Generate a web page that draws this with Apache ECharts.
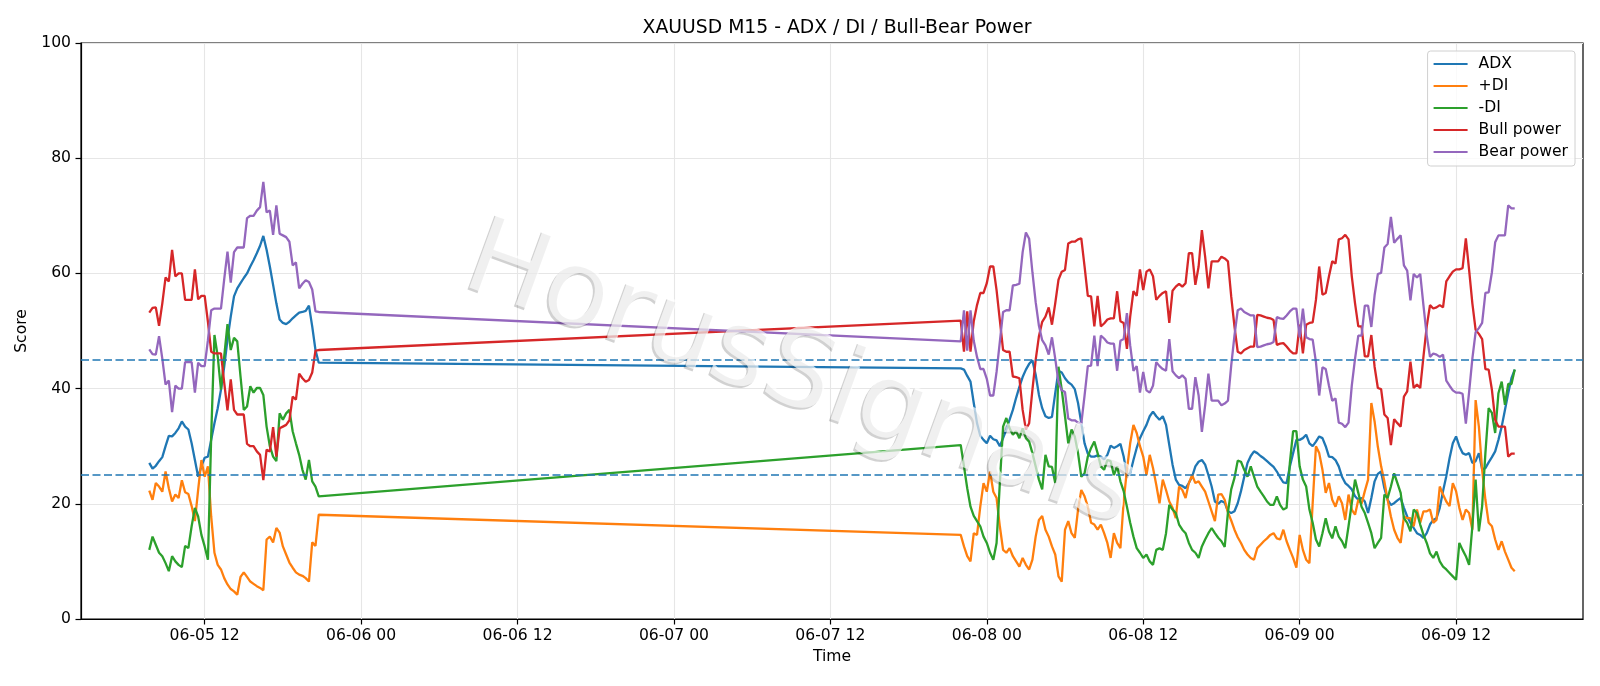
<!DOCTYPE html>
<html>
<head>
<meta charset="utf-8">
<title>XAUUSD M15 - ADX / DI / Bull-Bear Power</title>
<script src="https://cdn.jsdelivr.net/npm/echarts@6/dist/echarts.min.js"></script>
<style>
  html, body { margin: 0; padding: 0; background: #fff; }
  #chart { width: 1600px; height: 686px; }
</style>
</head>
<body>
<div id="chart"></div>
<script>
// M15 bars, two sessions (Fri, then Sun-Tue). [start in hours from 06-05 00:00, bar count]
var sessions = [[7.75, 53], [70, 171]];

var tickHours = [12, 24, 36, 48, 60, 72, 84, 96, 108];
var tickLabels = ['06-05 12', '06-06 00', '06-06 12', '06-07 00', '06-07 12', '06-08 00', '06-08 12', '06-09 00', '06-09 12'];

var adx = [
  27.1, 26.1, 26.6, 27.4, 28.1, 30.0, 31.8, 31.7, 32.3, 33.1, 34.3, 33.4, 32.9, 30.5, 27.6, 24.7, 26.5, 28.0, 28.2, 31.1,
  34.0, 36.6, 39.8, 43.8, 48.5, 52.5, 56.0, 57.4, 58.3, 59.2, 60.0, 61.2, 62.3, 63.5, 64.8, 66.5, 64.1, 61.2, 58.0, 54.8,
  52.0, 51.4, 51.2, 51.6, 52.2, 52.7, 53.2, 53.3, 53.5, 54.4, 50.8, 46.7, 44.5,
  43.5, 43.3, 42.2, 41.2, 37.5, 34.0, 31.8, 31.1, 30.5, 31.8, 31.2, 31.0, 30.0, 31.4, 32.9, 34.6, 36.3, 38.4, 40.3, 42.0,
  43.3, 44.3, 44.9, 42.4, 38.9, 36.6, 35.2, 34.9, 35.1, 39.2, 43.1, 42.8, 41.8, 41.1, 40.7, 39.9, 37.5, 34.0, 30.5, 28.7,
  28.2, 28.2, 28.4, 28.2, 27.7, 28.5, 30.1, 29.7, 30.0, 30.4, 28.2, 25.0, 25.3, 27.6, 29.7, 31.4, 32.6, 33.7, 35.2, 36.0,
  35.2, 34.6, 35.2, 33.7, 30.2, 26.8, 24.2, 23.3, 23.1, 22.7, 23.6, 24.7, 26.5, 27.3, 27.6, 26.8, 25.0, 23.0, 20.4, 20.0,
  20.5, 20.2, 18.7, 18.4, 18.7, 20.1, 22.2, 24.7, 27.1, 28.3, 29.1, 28.8, 28.3, 27.9, 27.4, 26.9, 26.4, 25.6, 24.6, 23.7,
  23.6, 26.5, 28.8, 31.1, 31.1, 31.4, 32.0, 30.5, 30.0, 30.8, 31.7, 31.4, 30.0, 28.2, 28.1, 27.6, 26.5, 24.7, 23.6, 23.1,
  22.5, 21.3, 20.7, 21.0, 20.4, 18.4, 21.0, 23.9, 25.2, 25.6, 22.7, 20.7, 19.8, 20.1, 20.6, 21.0, 19.3, 17.8, 16.7, 15.8,
  14.9, 14.6, 14.1, 14.9, 16.4, 17.2, 17.5, 19.3, 22.2, 24.8, 27.9, 30.5, 31.7, 30.0, 28.8, 28.5, 28.8, 27.1, 27.4, 28.8,
  26.0, 26.2, 27.2, 28.1, 29.1, 31.1, 33.4, 36.3, 39.2, 41.8, 43.3
];

var plusDI = [
  22.3, 20.7, 23.6, 23.0, 22.1, 25.6, 22.7, 20.4, 21.6, 21.0, 24.1, 22.0, 21.7, 19.6, 17.0, 22.4, 27.6, 24.7, 26.5, 17.8,
  11.5, 9.4, 8.6, 7.1, 6.0, 5.2, 4.8, 4.2, 7.3, 8.1, 7.3, 6.5, 6.1, 5.7, 5.4, 5.0, 13.8, 14.3, 13.3, 15.8,
  15.0, 12.6, 11.2, 9.8, 8.9, 8.1, 7.7, 7.5, 7.1, 6.5, 13.3, 12.7, 18.1,
  14.6, 12.6, 10.9, 10.0, 14.9, 14.6, 19.5, 23.6, 22.1, 25.6, 22.1, 21.0, 16.1, 12.0, 11.5, 12.3, 10.9, 10.0, 9.1, 10.6,
  9.4, 8.6, 10.3, 14.3, 17.2, 17.9, 15.5, 14.3, 12.6, 11.2, 7.4, 6.5, 15.5, 17.0, 14.9, 14.1, 19.0, 22.4, 21.3, 19.5,
  16.7, 16.4, 15.5, 16.4, 14.9, 13.2, 10.6, 14.9, 13.2, 12.3, 20.4, 25.9, 30.5, 33.7, 32.3, 30.0, 28.2, 25.0, 28.5, 26.2,
  23.3, 20.1, 24.2, 22.4, 20.4, 19.3, 17.5, 23.0, 22.4, 21.0, 23.6, 25.0, 23.6, 23.9, 23.0, 22.1, 20.4, 18.7, 17.0, 21.6,
  21.7, 20.7, 18.5, 17.1, 15.5, 14.2, 13.2, 12.0, 11.2, 10.6, 10.3, 12.3, 12.9, 13.5, 14.0, 14.6, 14.9, 14.0, 13.8, 15.5,
  13.5, 12.0, 10.6, 8.9, 14.6, 12.0, 10.3, 9.7, 20.1, 30.0, 28.8, 25.9, 21.9, 23.6, 20.7, 19.5, 21.3, 20.1, 17.2, 21.6,
  19.0, 18.1, 20.7, 20.0, 22.2, 24.2, 37.5, 34.3, 29.9, 26.5, 23.9, 20.7, 17.8, 15.5, 14.1, 13.2, 17.8, 17.5, 17.5, 16.1,
  19.0, 16.7, 18.7, 18.7, 19.0, 16.7, 17.2, 23.0, 21.6, 20.4, 19.6, 23.6, 22.2, 19.3, 17.2, 19.0, 18.4, 15.5, 38.0, 33.4,
  25.9, 20.7, 16.7, 16.1, 13.8, 12.0, 13.5, 11.7, 10.3, 8.9, 8.3
];

var minusDI = [
  12.0, 14.3, 12.9, 11.5, 10.9, 9.7, 8.3, 10.9, 10.0, 9.4, 9.0, 12.7, 12.3, 16.1, 19.3, 17.8, 14.6, 12.6, 10.3, 31.7,
  49.3, 45.6, 39.8, 45.6, 51.2, 46.7, 48.8, 48.2, 42.1, 36.3, 36.9, 40.4, 39.3, 40.1, 40.1, 38.9, 33.4, 30.0, 28.2, 27.4,
  35.7, 34.6, 35.7, 36.3, 32.6, 30.5, 28.5, 25.9, 24.2, 27.6, 23.9, 23.0, 21.3,
  30.2, 26.5, 22.7, 19.5, 17.9, 17.0, 16.1, 14.3, 13.2, 11.5, 10.3, 13.2, 23.6, 33.4, 34.9, 33.1, 32.0, 32.6, 31.4, 33.1,
  31.4, 30.8, 28.8, 26.5, 24.2, 22.5, 28.5, 26.5, 26.4, 23.6, 43.8, 39.8, 35.2, 30.5, 32.9, 31.7, 28.8, 24.7, 25.3, 28.2,
  29.7, 30.8, 28.8, 26.5, 25.9, 27.6, 27.4, 25.0, 26.5, 23.9, 22.2, 19.5, 16.7, 14.3, 12.3, 11.5, 10.6, 11.2, 10.0, 9.4,
  12.0, 12.3, 12.0, 14.9, 19.8, 19.0, 18.4, 16.4, 15.5, 14.9, 13.2, 12.0, 11.5, 10.6, 12.6, 13.8, 14.9, 15.8, 14.9, 14.1,
  13.5, 12.5, 18.5, 22.5, 24.5, 27.5, 27.3, 25.9, 24.7, 26.5, 24.7, 23.0, 22.1, 21.3, 20.4, 19.8, 19.8, 21.3, 19.8, 19.0,
  19.3, 27.1, 32.6, 32.6, 26.5, 24.2, 23.0, 19.0, 16.7, 13.8, 12.6, 14.9, 17.5, 15.2, 14.0, 16.1, 14.3, 13.5, 12.3, 16.1,
  20.1, 24.2, 21.9, 19.5, 18.4, 16.7, 14.9, 12.3, 13.2, 14.1, 21.6, 21.0, 23.0, 25.3, 23.6, 21.9, 17.5, 16.7, 15.2, 19.0,
  18.4, 16.4, 14.6, 13.2, 11.4, 10.6, 11.7, 10.0, 9.1, 8.6, 8.0, 7.4, 6.8, 13.2, 12.0, 10.9, 9.4, 16.1, 24.2, 15.2,
  19.6, 28.8, 36.6, 35.8, 32.3, 39.2, 41.2, 37.2, 40.8, 40.8, 43.3
];

var bullPower = [
  53.2, 54.0, 54.1, 50.9, 54.8, 59.3, 58.6, 64.1, 59.5, 60.0, 60.0, 55.4, 55.4, 55.4, 60.7, 55.5, 56.1, 56.1, 51.6, 46.4,
  46.1, 46.1, 46.1, 41.0, 36.2, 41.6, 36.3, 35.5, 35.5, 35.5, 30.4, 30.0, 30.0, 29.1, 28.5, 24.1, 29.4, 29.1, 33.3, 28.2,
  33.1, 33.4, 33.7, 34.5, 38.6, 38.1, 42.6, 41.8, 41.2, 41.5, 42.8, 46.6, 46.7,
  51.8, 46.4, 53.4, 46.4, 51.7, 54.5, 56.6, 56.6, 58.3, 61.2, 61.2, 57.1, 51.9, 46.7, 46.4, 46.4, 42.1, 42.0, 41.8, 36.3,
  32.9, 34.0, 39.8, 45.0, 49.1, 51.6, 52.5, 54.1, 51.1, 54.8, 58.9, 60.3, 60.6, 65.2, 65.5, 65.5, 65.9, 66.1, 61.2, 56.1,
  56.0, 50.8, 56.1, 50.8, 51.3, 52.0, 52.2, 52.2, 56.9, 51.7, 51.4, 46.9, 52.5, 56.9, 56.1, 60.7, 57.1, 60.3, 60.7, 59.5,
  55.4, 56.1, 56.6, 56.9, 51.4, 57.0, 57.7, 58.2, 57.7, 58.3, 63.5, 63.5, 58.0, 61.2, 67.5, 62.9, 57.4, 62.1, 62.1, 62.1,
  62.9, 62.6, 62.1, 56.0, 50.8, 46.4, 46.1, 46.7, 47.0, 47.3, 47.3, 52.8, 52.7, 52.5, 52.3, 52.2, 51.9, 47.6, 47.8, 47.9,
  47.3, 46.6, 46.1, 46.1, 51.1, 46.1, 51.1, 51.4, 51.5, 55.4, 61.2, 56.3, 56.6, 59.5, 62.1, 61.7, 65.9, 66.1, 66.7, 65.9,
  59.5, 54.8, 50.8, 50.8, 45.6, 45.6, 49.3, 43.8, 40.1, 39.9, 35.5, 34.9, 30.2, 34.7, 34.0, 33.4, 38.6, 39.5, 44.7, 40.1,
  40.7, 40.1, 45.6, 50.8, 54.5, 53.9, 54.1, 54.5, 54.1, 58.6, 59.5, 60.3, 60.7, 60.7, 60.9, 66.1, 60.6, 54.8, 50.2, 49.5,
  48.6, 43.4, 43.3, 39.8, 34.6, 33.4, 33.4, 33.4, 28.2, 28.7, 28.7
];

var bearPower = [
  46.8, 46.0, 45.9, 49.1, 45.2, 40.7, 41.4, 35.9, 40.5, 40.0, 40.0, 44.6, 44.6, 44.6, 39.3, 44.5, 43.9, 43.9, 48.4, 53.6,
  53.9, 53.9, 53.9, 59.0, 63.8, 58.4, 63.7, 64.5, 64.5, 64.5, 69.6, 70.0, 70.0, 70.9, 71.5, 75.9, 70.6, 70.9, 66.7, 71.8,
  66.9, 66.6, 66.3, 65.5, 61.4, 61.9, 57.4, 58.2, 58.8, 58.5, 57.2, 53.4, 53.3,
  48.2, 53.6, 46.6, 53.6, 48.3, 45.5, 43.4, 43.4, 41.7, 38.8, 38.8, 42.9, 48.1, 53.3, 53.6, 53.6, 57.9, 58.0, 58.2, 63.7,
  67.1, 66.0, 60.2, 55.0, 50.9, 48.4, 47.5, 45.9, 48.9, 45.2, 41.1, 39.7, 39.4, 34.8, 34.5, 34.5, 34.1, 33.9, 38.8, 43.9,
  44.0, 49.2, 43.9, 49.2, 48.7, 48.0, 47.8, 47.8, 43.1, 48.3, 48.6, 53.1, 47.5, 43.1, 43.9, 39.3, 42.9, 39.7, 39.3, 40.5,
  44.6, 43.9, 43.4, 43.1, 48.6, 43.0, 42.3, 41.8, 42.3, 41.7, 36.5, 36.5, 42.0, 38.8, 32.5, 37.1, 42.6, 37.9, 37.9, 37.9,
  37.1, 37.4, 37.9, 44.0, 49.2, 53.6, 53.9, 53.3, 53.0, 52.7, 52.7, 47.2, 47.3, 47.5, 47.7, 47.8, 48.1, 52.4, 52.2, 52.1,
  52.7, 53.4, 53.9, 53.9, 48.9, 53.9, 48.9, 48.6, 48.5, 44.6, 38.8, 43.7, 43.4, 40.5, 37.9, 38.3, 34.1, 33.9, 33.3, 34.1,
  40.5, 45.2, 49.2, 49.2, 54.4, 54.4, 50.7, 56.2, 59.9, 60.1, 64.5, 65.1, 69.8, 65.3, 66.0, 66.6, 61.4, 60.5, 55.3, 59.9,
  59.3, 59.9, 54.4, 49.2, 45.5, 46.1, 45.9, 45.5, 45.9, 41.4, 40.5, 39.7, 39.3, 39.3, 39.1, 33.9, 39.4, 45.2, 49.8, 50.5,
  51.4, 56.6, 56.7, 60.2, 65.4, 66.6, 66.6, 66.6, 71.8, 71.3, 71.3
];

var levels = [45, 25];

var times = [];
sessions.forEach(function (s) {
    for (var k = 0; k < s[1]; k++) {
        times.push(s[0] + k * 0.25);
    }
});

function pairs(vals) {
    return times.map(function (t, i) { return [t, vals[i]]; });
}

var font = 'DejaVu Sans';
var fs = 15.6; // tick / label font size

function lineSeries(name, color, vals) {
    return {
        name: name,
        type: 'line',
        data: pairs(vals),
        showSymbol: false,
        symbol: 'none',
        lineStyle: { color: color, width: 2.3 },
        itemStyle: { color: color },
        emphasis: { disabled: true },
        animation: false
    };
}

var chart = echarts.init(document.getElementById('chart'), null, { renderer: 'canvas' });

var bear = lineSeries('Bear power', '#9467bd', bearPower);
bear.markLine = {
    silent: true,
    symbol: 'none',
    label: { show: false },
    lineStyle: { color: '#1f77b4', width: 1.5, type: [8, 3.5] },
    data: levels.map(function (v) { return { yAxis: v }; }),
    animation: false
};

// watermark: thin grey drop shadow, then a translucent white copy on top of the lines
var wmRot = -20 * Math.PI / 180;
var wmFont = '108px "DejaVu Sans"';
var wmX = 800, wmY = 378;

var option = {
    backgroundColor: '#fff',
    animation: false,
    title: {
        text: 'XAUUSD M15 - ADX / DI / Bull-Bear Power',
        left: 832,
        top: 14,
        textAlign: 'center',
        textStyle: { fontSize: 18.8, fontWeight: 'normal', fontFamily: font, color: '#000' }
    },
    grid: {
        left: 81, right: 17, top: 43, bottom: 67,
        show: true, borderColor: '#000', borderWidth: 1.2
    },
    legend: {
        orient: 'vertical',
        right: 25,
        top: 51,
        icon: 'rect',
        itemWidth: 34,
        itemHeight: 2,
        itemGap: 6,
        padding: [5, 7, 6, 6],
        borderColor: '#d0d0d0',
        borderWidth: 1,
        borderRadius: 3,
        backgroundColor: 'rgba(255,255,255,0.8)',
        textStyle: { fontSize: fs, fontFamily: font, color: '#000', lineHeight: 16, padding: [0, 0, 0, 6] },
        data: ['ADX', '+DI', '-DI', 'Bull power', 'Bear power']
    },
    xAxis: {
        type: 'value',
        min: 2.5125,
        max: 117.7375,
        name: 'Time',
        nameLocation: 'middle',
        nameGap: 29,
        nameTextStyle: { fontSize: fs, fontFamily: font, color: '#000' },
        axisLine: { lineStyle: { color: '#000', width: 1.2 } },
        axisTick: { customValues: tickHours, length: 5.5, lineStyle: { color: '#000', width: 1.2 } },
        axisLabel: {
            customValues: tickHours,
            margin: 9,
            fontSize: fs,
            fontFamily: font,
            color: '#000',
            formatter: function (v) {
                var k = tickHours.indexOf(Math.round(v));
                return k >= 0 ? tickLabels[k] : '';
            }
        },
        splitLine: { show: true, lineStyle: { color: '#e6e6e6', width: 1.1 } }
    },
    yAxis: {
        type: 'value',
        min: 0,
        max: 100,
        interval: 20,
        name: 'Score',
        nameLocation: 'middle',
        nameGap: 47,
        nameTextStyle: { fontSize: fs, fontFamily: font, color: '#000' },
        axisLine: { show: true, lineStyle: { color: '#000', width: 1.2 } },
        axisTick: { show: true, length: 5.5, lineStyle: { color: '#000', width: 1.2 } },
        axisLabel: { margin: 10, fontSize: fs, fontFamily: font, color: '#000' },
        splitLine: { show: true, lineStyle: { color: '#e6e6e6', width: 1.1 } }
    },
    graphic: [{
        type: 'text',
        x: wmX - 2,
        y: wmY + 2,
        rotation: wmRot,
        z: 100,
        silent: true,
        style: {
            text: 'HorusSignals',
            font: wmFont,
            fill: 'rgba(0,0,0,0.18)',
            align: 'center',
            verticalAlign: 'middle'
        }
    }, {
        type: 'text',
        x: wmX,
        y: wmY,
        rotation: wmRot,
        z: 101,
        silent: true,
        style: {
            text: 'HorusSignals',
            font: wmFont,
            fill: 'rgba(255,255,255,0.68)',
            align: 'center',
            verticalAlign: 'middle'
        }
    }],
    series: [
        lineSeries('ADX', '#1f77b4', adx),
        lineSeries('+DI', '#ff7f0e', plusDI),
        lineSeries('-DI', '#2ca02c', minusDI),
        lineSeries('Bull power', '#d62728', bullPower),
        bear
    ]
};

chart.setOption(option);
</script>
</body>
</html>
